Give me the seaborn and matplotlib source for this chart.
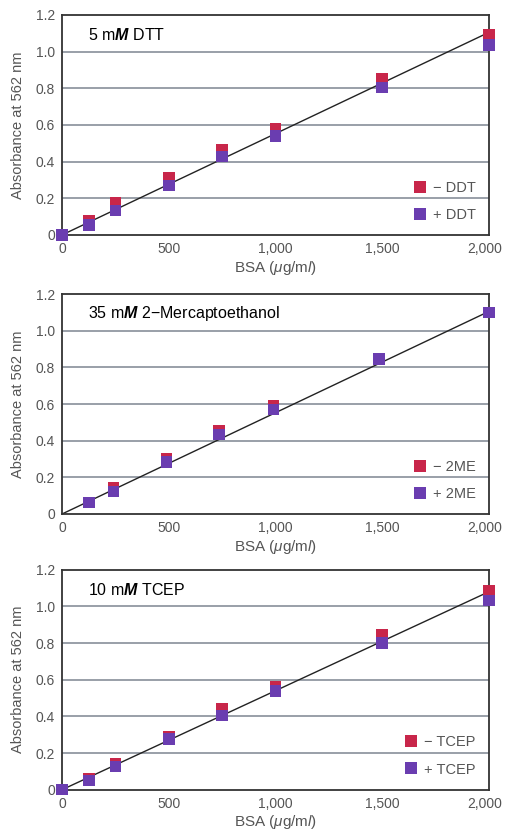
import matplotlib
matplotlib.use("Agg")
import matplotlib.pyplot as plt
from matplotlib.transforms import ScaledTranslation
import numpy as np
import pandas as pd
import seaborn as sns

# BSA standards (ug/ml)
bsa = [0, 125, 250, 500, 750, 1000, 1500, 2000]
bsa_2me = [125, 240, 490, 735, 990, 1485, 2000]

# absorbance readings at 562 nm
minus_dtt = [0.0, 0.078, 0.176, 0.31, 0.467, 0.58, 0.85, 1.09]
plus_dtt = [0.0, 0.055, 0.133, 0.27, 0.427, 0.54, 0.805, 1.036]

minus_2me = [0.062, 0.14, 0.30, 0.455, 0.59, 0.845, 1.10]
plus_2me = [0.062, 0.122, 0.284, 0.433, 0.571, 0.845, 1.10]

minus_tcep = [0.0, 0.06, 0.14, 0.29, 0.44, 0.564, 0.845, 1.085]
plus_tcep = [0.0, 0.05, 0.127, 0.276, 0.405, 0.54, 0.80, 1.033]

# standard curve end points
fit_x = [0, 2000]
fit_dtt = [0.0, 1.105]
fit_2me = [0.0, 1.105]
fit_tcep = [0.0, 1.08]

titles = ["5 m$\\mathbfit{M}$ DTT", "35 m$\\mathbfit{M}$ 2\u2212Mercaptoethanol", "10 m$\\mathbfit{M}$ TCEP"]
agents = ["DDT", "2ME", "TCEP"]

y_ticks = [0, 0.2, 0.4, 0.6, 0.8, 1.0, 1.2]
y_ticklabels = ["0", "0.2", "0.4", "0.6", "0.8", "1.0", "1.2"]
x_ticks = [0, 500, 1000, 1500, 2000]
x_ticklabels = ["0", "500", "1,000", "1,500", "2,000"]

sns.set_style("white")
plt.rcParams["font.family"] = ["Liberation Sans", "DejaVu Sans"]
plt.rcParams["mathtext.fontset"] = "custom"
plt.rcParams["mathtext.rm"] = "Liberation Sans"
plt.rcParams["mathtext.it"] = "Liberation Sans:italic"
plt.rcParams["mathtext.bf"] = "Liberation Sans:bold"
plt.rcParams["mathtext.bfit"] = "Liberation Sans:italic:bold"

red = "#c8264a"
purple = "#6a3db0"

panels = [
    (bsa, minus_dtt, bsa, plus_dtt, fit_dtt),
    (bsa_2me, minus_2me, bsa_2me, plus_2me, fit_2me),
    (bsa, minus_tcep, bsa, plus_tcep, fit_tcep),
]
bottoms = [0.718, 0.383, 0.052]

fig = plt.figure(figsize=(5.05, 8.33), dpi=100)

for i, (xm, ym, xp, yp, fit) in enumerate(panels):
    ax = fig.add_axes([0.123, bottoms[i], 0.845, 0.264])
    agent = agents[i]
    df = pd.DataFrame({
        "bsa": xm + xp,
        "abs": ym + yp,
        "cond": ["\u2212 " + agent] * len(xm) + ["+ " + agent] * len(xp),
    })
    ax.plot(fit_x, fit, color="#222222", lw=1.0, zorder=2)
    sns.scatterplot(data=df, x="bsa", y="abs", hue="cond", marker="s", s=70,
                    palette=[red, purple], edgecolor="none", linewidth=0,
                    ax=ax, zorder=3, clip_on=False)
    ax.set_xlim(0, 2000)
    ax.set_ylim(0, 1.2)
    ax.set_yticks(y_ticks)
    ax.set_yticklabels(y_ticklabels)
    ax.set_xticks(x_ticks)
    ax.set_xticklabels(x_ticklabels)
    ax.tick_params(length=0, labelsize=10, labelcolor="#555555", pad=5)
    # nudge the last x label so it stays inside the figure
    last = ax.get_xticklabels()[-1]
    last.set_transform(last.get_transform() + ScaledTranslation(-3 / 72, 0, fig.dpi_scale_trans))
    for yv in y_ticks[1:-1]:
        ax.axhline(yv, color="#7d8591", lw=1.1, zorder=1)
    for sp in ax.spines.values():
        sp.set_color("#333333")
        sp.set_linewidth(1.3)
    ax.set_xlabel("BSA ($\\mu$g/m$\\it{l}$)", fontsize=11, color="#555555", labelpad=2)
    ax.set_ylabel("Absorbance at 562 nm", fontsize=10.5, color="#555555", labelpad=8)
    ax.text(0.06, 0.91, titles[i], transform=ax.transAxes, fontsize=11.5,
            color="black", va="center", ha="left")
    leg = ax.legend(loc="lower right", bbox_to_anchor=(1.0, 0.0), frameon=False,
                    fontsize=10.5, handletextpad=0.3, labelspacing=0.9,
                    markerscale=1.0, handlelength=1.2)
    for t in leg.get_texts():
        t.set_color("#555555")

fig.savefig("out.png", dpi=100)
